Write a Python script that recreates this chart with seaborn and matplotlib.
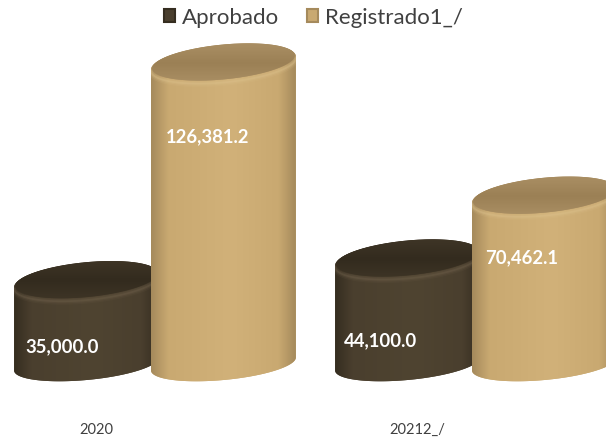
"""Cylinder-style grouped bars: approved vs registered amounts."""

import numpy as np
import pandas as pd
import matplotlib
matplotlib.use("Agg")
import matplotlib.pyplot as plt
import seaborn as sns
from matplotlib.colors import LinearSegmentedColormap
from matplotlib.patches import PathPatch, Polygon
from matplotlib.path import Path

years = ["2020", "20212_/"]
series_names = ["Aprobado", "Registrado1_/"]
aprobado = [35000.0, 44100.0]
registrado = [126381.2, 70462.1]

DARK = {"base": "#4a3f2e", "edge": "#352d20", "mid": "#4f4431",
        "top": "#3f3627", "top2": "#332b1e", "lip": "#6f604b"}
TAN = {"base": "#c9a971", "edge": "#a58a5c", "mid": "#d1b179",
       "top": "#ab9065", "top2": "#9b8055", "lip": "#dcc18c"}
STYLES = [DARK, DARK, TAN, TAN]

# pixel offsets of each value label from the centre of the bar top
LABEL_DX = [-24.5, -27.5, -15.5, -22.5]
LABEL_DY = [66, 82, 74, 62]

PX_PER_UNIT = 0.002382
ELL_B = 18 / PX_PER_UNIT
BASE_B = 16 / PX_PER_UNIT
ELL_TILT = 6.5 / PX_PER_UNIT

sns.set_theme(style="white")
plt.rcParams["font.family"] = ["Lato", "DejaVu Sans"]

df = pd.DataFrame({
    "year": years * 2,
    "serie": [series_names[0]] * 2 + [series_names[1]] * 2,
    "valor": aprobado + registrado,
})

fig = plt.figure(figsize=(6.06, 4.38), dpi=100)
ax = fig.add_axes([0, 23 / 438, 1, 415 / 438])
# negative gap: the light cylinder hides a strip of the dark one
sns.barplot(
    data=df, x="year", y="valor", hue="serie",
    palette=[DARK["base"], TAN["base"]], width=0.853, gap=-0.058,
    saturation=1, ax=ax,
)

xlim = (-155 / 321, (606 - 155) / 321)
ylim = (-51 / PX_PER_UNIT, 364 / PX_PER_UNIT)


def ellipse(cx, cy, a, b, t):
    """Tilted ellipse outline in data coordinates."""
    return np.column_stack([
        cx + a * np.cos(t),
        cy + b * np.sin(t) + ELL_TILT * np.cos(t),
    ])


bars = list(ax.patches)[:4]
for i, bar in enumerate(bars):
    st = STYLES[i]
    a = bar.get_width() / 2
    cx = bar.get_x() + a
    h = bar.get_height()
    z = 2 + i

    # body outline: upper half of top ellipse + lower half of base ellipse
    upper = ellipse(cx, h, a, ELL_B, np.linspace(0, np.pi, 80))
    lower = ellipse(cx, 0, a, BASE_B, np.linspace(np.pi, 2 * np.pi, 80))
    body = Polygon(np.vstack([upper, lower]), closed=True, fc=st["base"],
                   ec="none", zorder=z)
    ax.add_patch(body)
    bar.set_visible(False)

    cmap = LinearSegmentedColormap.from_list(
        "body", [(0, st["edge"]), (0.12, st["base"]), (0.55, st["mid"]),
                 (0.88, st["base"]), (1, st["edge"])])
    grad = np.linspace(0, 1, 256).reshape(1, -1)
    img = ax.imshow(grad, cmap=cmap, aspect="auto", zorder=z + 0.1,
                    extent=(cx - a, cx + a, -ELL_B * 2, h + ELL_B * 2))
    img.set_clip_path(body)

    # rounded rim below the top face, soft light band
    rim = ellipse(cx, h, a, ELL_B, np.linspace(np.pi, 2 * np.pi, 100))
    for width, alpha in [(5.0, 0.12), (3.0, 0.2), (1.3, 0.35)]:
        ax.plot(rim[:, 0], rim[:, 1] - 1.5 / PX_PER_UNIT, color=st["lip"],
                lw=width, alpha=alpha, zorder=z + 0.2, clip_path=body)

    # top face
    top_pts = ellipse(cx, h + 1 / PX_PER_UNIT, a * 0.985, ELL_B * 0.97,
                      np.linspace(0, 2 * np.pi, 160))
    top = PathPatch(Path(np.vstack([top_pts, top_pts[:1]])), fc=st["top"],
                    ec="none", zorder=z + 0.3)
    ax.add_patch(top)
    cmap_top = LinearSegmentedColormap.from_list("top", [st["top"], st["top2"], st["top"]])
    img_top = ax.imshow(np.linspace(0, 1, 64).reshape(-1, 1), cmap=cmap_top,
                        aspect="auto", origin="lower", zorder=z + 0.4,
                        extent=(cx - a, cx + a, h - ELL_B * 1.2, h + ELL_B * 1.2))
    img_top.set_clip_path(top)

    ax.annotate(f"{h:,.1f}", xy=(cx, h), zorder=20,
                xytext=(LABEL_DX[i] * 0.72, -LABEL_DY[i] * 0.72),
                textcoords="offset points", ha="center", va="center",
                color="white", fontsize=13.3, fontweight="bold")

ax.set_xlim(*xlim)
ax.set_ylim(*ylim)
ax.set_xlabel("")
ax.set_ylabel("")
ax.set_yticks([])
# category labels sit left of the bars' centres in the original
ax.set_xticks([-59 / 321, 1 - 59 / 321], labels=years)
ax.tick_params(axis="x", length=0, pad=6, labelsize=10.5, labelcolor="#404040")
sns.despine(ax=ax, left=True, bottom=True)

handles, labels = ax.get_legend_handles_labels()
for handle, st in zip(handles, [DARK, TAN]):
    handle.set_edgecolor(st["edge"])
    handle.set_linewidth(1.5)
ax.legend(handles, labels, loc="upper center", bbox_to_anchor=(0.517, 1.03),
          ncol=2, frameon=False, fontsize=16, handlelength=0.5,
          handleheight=0.5, handletextpad=0.3, columnspacing=1.25,
          labelcolor="#404040")

fig.savefig("out.png", dpi=100)
plt.close(fig)
